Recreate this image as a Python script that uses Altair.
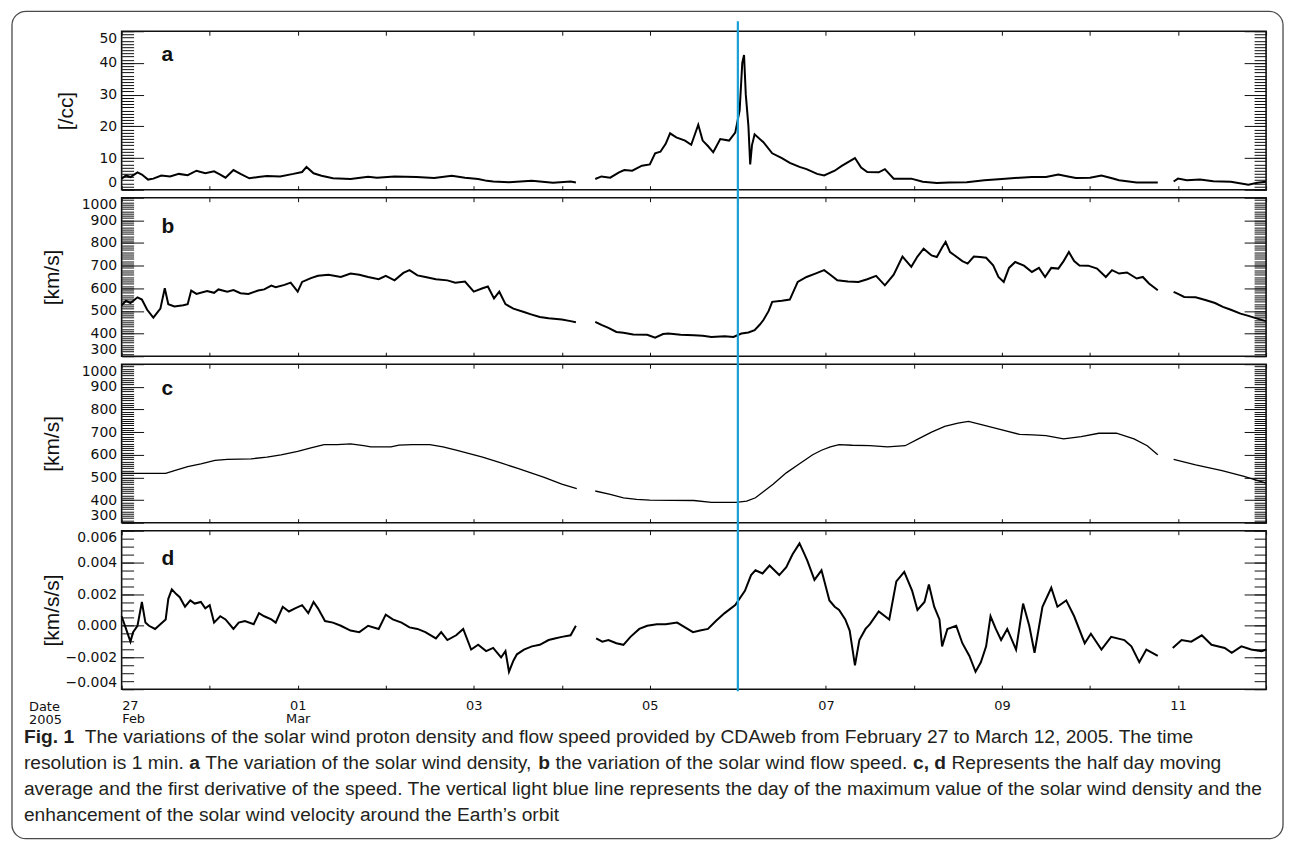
import altair as alt
import pandas as pd

# ---------------- data (x = days since 2005-02-27 00:00 UT; None marks a data gap) ----------------
a_days = [0, 0.05, 0.1, 0.18, 0.23, 0.3, 0.36, 0.45, 0.55, 0.65, 0.75, 0.85, 0.95, 1.05, 1.12, 1.18, 1.27, 1.35,
          1.45, 1.55, 1.65, 1.8, 1.95, 2.05, 2.1, 2.18, 2.27, 2.4, 2.6, 2.8, 2.9, 3.1, 3.35, 3.55, 3.75, 3.9, 4.05,
          4.15, 4.22, 4.4, 4.66, 4.9, 5.1, 5.16, None,
          5.38, 5.45, 5.55, 5.65, 5.71, 5.8, 5.91, 6.0, 6.06, 6.12, 6.18, 6.23, 6.3, 6.4, 6.47, 6.55, 6.6, 6.66,
          6.72, 6.8, 6.9, 6.97, 7.02, 7.05, 7.07, 7.09, 7.12, 7.14, 7.16, 7.19, 7.29, 7.39, 7.5, 7.59, 7.7, 7.78,
          7.9, 7.98, 8.1, 8.18, 8.33, 8.4, 8.47, 8.6, 8.67, 8.77, 8.97, 9.1, 9.26, 9.4, 9.6, 9.8, 10.0, 10.2,
          10.34, 10.5, 10.64, 10.75, 10.84, 11.0, 11.13, 11.25, 11.33, 11.53, 11.77, None,
          11.95, 12.0, 12.1, 12.25, 12.4, 12.6, 12.8, 12.9, 13.0]
a_vals = [3.5, 4.5, 4.0, 5.5, 4.8, 3.2, 3.5, 4.5, 4.2, 5.0, 4.6, 6.0, 5.2, 5.8, 4.8, 3.8, 6.2, 5.0,
          3.6, 4.0, 4.3, 4.2, 5.0, 5.6, 7.2, 5.2, 4.4, 3.6, 3.4, 4.1, 3.8, 4.2, 4.0, 3.7, 4.4, 3.8, 3.4,
          2.8, 2.6, 2.4, 2.8, 2.2, 2.6, 2.3, None,
          3.4, 4.2, 3.8, 5.5, 6.2, 6.0, 7.6, 8.0, 11.5, 12.0, 14.5, 17.8, 16.5, 15.5, 14.2, 20.5, 15.5, 13.8,
          11.8, 16.0, 15.5, 18.0, 25.0, 40.0, 42.5, 30.0, 20.0, 8.0, 14.0, 17.5, 15.0, 11.5, 10.0, 8.5, 7.2, 6.5,
          5.0, 4.5, 6.0, 7.5, 10.0, 7.0, 5.6, 5.5, 6.5, 3.5, 3.5, 2.5, 2.1, 2.3, 2.4, 3.0, 3.4, 3.8,
          4.0, 4.0, 4.8, 4.2, 3.7, 3.8, 4.5, 3.6, 3.0, 2.3, 2.3, None,
          2.6, 3.5, 3.0, 3.2, 2.7, 2.5, 1.6, 2.2, 2.5]

b_days = [0, 0.05, 0.1, 0.18, 0.23, 0.29, 0.36, 0.44, 0.49, 0.53, 0.6, 0.7, 0.75, 0.79, 0.85, 0.97, 1.05, 1.1,
          1.2, 1.27, 1.35, 1.44, 1.55, 1.62, 1.7, 1.75, 1.85, 1.92, 2.0, 2.05, 2.15, 2.23, 2.35, 2.49, 2.6,
          2.7, 2.8, 2.92, 3.0, 3.1, 3.2, 3.27, 3.36, 3.45, 3.57, 3.7, 3.79, 3.9, 4.0, 4.1, 4.16, 4.23, 4.29,
          4.36, 4.45, 4.57, 4.65, 4.75, 4.85, 5.0, 5.1, 5.16, None,
          5.38, 5.45, 5.53, 5.62, 5.7, 5.81, 5.97, 6.06, 6.15, 6.21, 6.35, 6.5, 6.6, 6.7, 6.85, 6.95, 7.04,
          7.12, 7.19, 7.25, 7.29, 7.35, 7.39, 7.5, 7.59, 7.68, 7.78, 7.88, 7.98, 8.05, 8.13, 8.25, 8.37, 8.47,
          8.57, 8.67, 8.77, 8.87, 8.97, 9.04, 9.11, 9.2, 9.26, 9.32, 9.36, 9.41, 9.46, 9.55, 9.61, 9.68, 9.75,
          9.82, 9.9, 9.96, 10.02, 10.08, 10.15, 10.25, 10.34, 10.42, 10.49, 10.56, 10.64, 10.7, 10.76, 10.82,
          10.88, 10.98, 11.08, 11.18, 11.25, 11.33, 11.42, 11.53, 11.6, 11.67, 11.77, None,
          11.95, 12.0, 12.07, 12.2, 12.32, 12.42, 12.51, 12.6, 12.71, 12.8, 12.9, 13.0]
b_vals = [525, 545, 535, 560, 550, 505, 470, 510, 600, 530, 520, 525, 530, 590, 575, 588, 580, 595,
          585, 592, 578, 575, 590, 595, 612, 605, 615, 625, 585, 628, 645, 655, 660, 650, 665,
          660, 650, 640, 655, 635, 668, 680, 657, 650, 640, 635, 625, 630, 585, 600, 608, 555, 585,
          530, 510, 495, 485, 473, 468, 462, 455, 450, None,
          452, 438, 425, 407, 404, 396, 395, 382, 398, 400, 395, 393, 390, 385, 388, 385, 400,
          405, 415, 440, 460, 500, 540, 545, 550, 628, 650, 665, 680, 660, 635, 630, 628, 640,
          655, 613, 660, 740, 695, 740, 775, 745, 738, 780, 805, 760, 746, 720, 709, 740, 738,
          735, 701, 650, 628, 690, 716, 700, 672, 690, 650, 690, 687, 720, 760, 720,
          701, 700, 687, 650, 680, 665, 670, 643, 650, 621, 591, None,
          584, 575, 562, 560, 547, 535, 518, 505, 488, 478, 466, 455]

c_days = [0, 0.5, 0.6, 0.75, 0.9, 1.06, 1.2, 1.47, 1.65, 1.81, 2.0, 2.15, 2.3, 2.45, 2.6, 2.75, 2.83, 3.06,
          3.15, 3.3, 3.5, 3.65, 3.8, 3.95, 4.1, 4.3, 4.5, 4.65, 4.8, 5.0, 5.17, None,
          5.38, 5.55, 5.7, 5.85, 6.0, 6.5, 6.7, 6.98, 7.1, 7.2, 7.3, 7.4, 7.55, 7.7, 7.85, 7.95, 8.05, 8.15,
          8.3, 8.5, 8.7, 8.9, 9.05, 9.2, 9.35, 9.5, 9.62, 9.8, 10.0, 10.2, 10.35, 10.5, 10.7, 10.9, 11.1,
          11.3, 11.5, 11.65, 11.77, None,
          11.95, 12.2, 12.5, 12.75, 13.0]
c_vals = [518, 518, 530, 548, 560, 575, 580, 582, 590, 600, 615, 630, 645, 645, 648, 640, 635, 635,
          643, 645, 645, 635, 620, 605, 590, 565, 540, 520, 500, 470, 450, None,
          440, 425, 410, 403, 400, 398, 390, 390, 395, 410, 440, 470, 520, 560, 600, 620, 635, 645,
          642, 640, 635, 640, 670, 700, 725, 740, 747, 730, 710, 690, 688, 685, 670, 680, 695,
          695, 670, 640, 600, None,
          580, 555, 530, 505, 475]

d_days = [0, 0.05, 0.1, 0.13, 0.18, 0.23, 0.27, 0.31, 0.38, 0.44, 0.5, 0.53, 0.57, 0.62, 0.66, 0.72, 0.78,
          0.83, 0.9, 0.95, 1.0, 1.05, 1.12, 1.18, 1.27, 1.33, 1.4, 1.5, 1.56, 1.62, 1.7, 1.75, 1.83, 1.9,
          1.97, 2.05, 2.12, 2.18, 2.23, 2.31, 2.4, 2.49, 2.6, 2.7, 2.8, 2.92, 3.0, 3.08, 3.18, 3.27, 3.36,
          3.45, 3.57, 3.63, 3.7, 3.8, 3.88, 3.97, 4.05, 4.14, 4.22, 4.31, 4.36, 4.4, 4.45, 4.49, 4.57, 4.66,
          4.75, 4.85, 4.92, 5.0, 5.1, 5.16, None,
          5.39, 5.46, 5.53, 5.62, 5.7, 5.78, 5.88, 5.97, 6.08, 6.18, 6.31, 6.4, 6.49, 6.57, 6.66, 6.75, 6.85,
          6.97, 7.08, 7.15, 7.2, 7.28, 7.36, 7.47, 7.55, 7.62, 7.7, 7.75, 7.79, 7.87, 7.95, 8.04, 8.1, 8.15,
          8.22, 8.27, 8.33, 8.38, 8.45, 8.5, 8.6, 8.72, 8.8, 8.89, 8.98, 9.04, 9.12, 9.17, 9.23, 9.29, 9.32,
          9.38, 9.48, 9.55, 9.63, 9.7, 9.76, 9.82, 9.87, 9.93, 9.99, 10.06, 10.16, 10.24, 10.31, 10.37,
          10.46, 10.56, 10.63, 10.73, 10.82, 10.94, 11.01, 11.13, 11.24, 11.39, 11.47, 11.56, 11.64, 11.77,
          None,
          11.94, 12.04, 12.15, 12.27, 12.38, 12.53, 12.61, 12.72, 12.83, 12.95, 13.0]
d_vals = [0.0006, -0.0002, -0.001, -0.0004, 0.0, 0.0015, 0.0002, 0.0, -0.0002, 0.0001, 0.0004, 0.0017,
          0.0023, 0.002, 0.0018, 0.0012, 0.0016, 0.0014, 0.0015, 0.0011, 0.0013, 0.0002, 0.0006, 0.0004,
          -0.0002, 0.0002, 0.0003, 0.0001, 0.0008, 0.0006, 0.0004, 0.0002, 0.0012, 0.0009, 0.0011, 0.0013,
          0.0008, 0.0015, 0.0011, 0.0003, 0.0002, 0.0, -0.0003, -0.0004, 0.0, -0.0002, 0.0007, 0.0004,
          0.0002, -0.0001, -0.0002, -0.0004, -0.0008, -0.0004, -0.0009, -0.0006, -0.0002, -0.0015,
          -0.0012, -0.0016, -0.0014, -0.002, -0.0016, -0.0029, -0.0022, -0.0018, -0.0015, -0.0013,
          -0.0012, -0.0009, -0.0008, -0.0007, -0.0006, 0.0, None,
          -0.0008, -0.001, -0.0009, -0.0011, -0.0012, -0.0007, -0.0002, 0.0, 0.0001, 0.0001, 0.0002,
          -0.0001, -0.0004, -0.0003, -0.0002, 0.0003, 0.0008, 0.0013, 0.0022, 0.0032, 0.0035, 0.0033,
          0.0038, 0.0032, 0.0037, 0.0045, 0.0052, 0.0046, 0.0041, 0.0029, 0.0035, 0.0016, 0.0012, 0.001,
          0.0004, -0.0003, -0.0025, -0.0009, -0.0002, 0.0001, 0.0009, 0.0004, 0.0028, 0.0034, 0.0022,
          0.001, 0.0015, 0.0026, 0.0012, 0.0004, -0.0013, -0.0002, 0.0, -0.0011, -0.0019, -0.0029,
          -0.0023, -0.0013, 0.0006, -0.0002, -0.0009, -0.0002, -0.0015, 0.0014, 0.0, -0.0017,
          0.0012, 0.0024, 0.0012, 0.0016, 0.0006, -0.0011, -0.0005, -0.0015, -0.0007, -0.0009,
          -0.0013, -0.0023, -0.0015, -0.0019, None,
          -0.0014, -0.0009, -0.001, -0.0006, -0.0012, -0.0014, -0.0017, -0.0013, -0.0015, -0.0016,
          -0.0015]

event_day = [7.0]  # 2005-03-06 00:00

x_domain = [0, 13]
x_day_ticks = list(range(0, 14))
x_label_days = [0, 2, 4, 6, 8, 10, 12]
x_label_text = [["27", "Feb"], ["01", "Mar"], ["03"], ["05"], ["07"], ["09"], ["11"]]

panel_letters = ["a", "b", "c", "d"]
panel_titles = ["[/cc]", "[km/s]", "[km/s]", "[km/s/s]"]
y_domains = [[0, 50], [300, 1000], [300, 1000], [-0.004, 0.006]]
y_major = [[0, 10, 20, 30, 40, 50],
           [300, 400, 500, 600, 700, 800, 900, 1000],
           [300, 400, 500, 600, 700, 800, 900, 1000],
           [-0.004, -0.002, 0.0, 0.002, 0.004, 0.006]]
y_minor = [list(range(0, 51, 1)),
           list(range(300, 1001, 10)),
           list(range(300, 1001, 10)),
           [round(-0.004 + 0.0005 * i, 4) for i in range(21)]]
y_formats = ["d", "d", "d", ".3f"]

caption_lines = [
    [("Fig. 1", True), ("  The variations of the solar wind proton density and flow speed provided by CDAweb from "
                        "February 27 to March 12, 2005. The time", False)],
    [("resolution is 1 min. ", False), ("a", True), (" The variation of the solar wind density, ", False),
     ("b", True), (" the variation of the solar wind flow speed. ", False), ("c, d", True),
     (" Represents the half day moving", False)],
    [("average and the first derivative of the speed. The vertical light blue line represents the day of the "
      "maximum value of the solar wind density and the", False)],
    [("enhancement of the solar wind velocity around the Earth\u2019s orbit", False)],
]

# ---------------- layout / style ----------------
W, H = 1148, 159
LABEL_FONT = "DejaVu Sans"
SANS = "Liberation Sans"
BLUE = "#1aa0d8"
INK = "#111111"


def to_frame(days, vals):
    rows, seg = [], 0
    for d, v in zip(days, vals):
        if v is None:
            seg += 1
            continue
        rows.append({"day": d, "value": v, "seg": seg})
    return pd.DataFrame(rows)


xs = alt.Scale(domain=x_domain, nice=False, zero=False)


def panel(df, i, line_width, extra=None, x_labels=False):
    ys = alt.Scale(domain=y_domains[i], nice=False, zero=False)
    title_x = -55 if i == 0 else -69
    letter_y = [30, 35, 31, 34][i]
    line = alt.Chart(df).mark_line(color="black", strokeWidth=line_width, strokeJoin="miter").encode(
        x=alt.X("day:Q", scale=xs, axis=alt.Axis(orient="top", offset=-H, values=x_day_ticks, labels=False,
                                                 tickSize=4, tickColor=INK, domain=False, grid=False, title=None)),
        y=alt.Y("value:Q", scale=ys, axis=alt.Axis(
            orient="left", values=y_major[i], ticks=False, domain=False, grid=False, format=y_formats[i],
            labelFont=LABEL_FONT, labelFontSize=14, labelColor=INK, labelPadding=5, labelOverlap=False,
            labelFlush=True, labelFlushOffset=0,
            title=panel_titles[i], titleFont=SANS, titleFontSize=21, titleFontWeight="normal",
            titleColor=INK, titleAngle=270, titleX=title_x, titleY=H / 2, titleAlign="center",
            titleBaseline="middle")),
        detail="seg:N",
    )

    def ghost(yaxis, xaxis=None):
        return alt.Chart(df).mark_point(opacity=0, size=1).encode(
            x=alt.X("day:Q", scale=xs, axis=xaxis),
            y=alt.Y("value:Q", scale=ys, axis=yaxis),
        )

    top_ticks = alt.Axis(orient="bottom", offset=-H, values=x_day_ticks, labels=False, tickSize=4,
                         tickColor=INK, domain=False, grid=False, title=None)
    layers = [
        line,
        ghost(alt.Axis(orient="right", offset=-W, values=y_major[i], labels=False, tickSize=22,
                       tickColor=INK, domain=False, grid=False, title=None), top_ticks),
        ghost(alt.Axis(orient="right", offset=-W, values=y_minor[i], labels=False, tickSize=12,
                       tickColor=INK, domain=False, grid=False, title=None)),
        ghost(alt.Axis(orient="left", offset=-W, values=y_major[i], labels=False, tickSize=22,
                       tickColor=INK, domain=False, grid=False, title=None)),
        ghost(alt.Axis(orient="left", offset=-W, values=y_minor[i], labels=False, tickSize=12,
                       tickColor=INK, domain=False, grid=False, title=None)),
    ]
    if x_labels:
        expr = "''"
        for d, lab in reversed(list(zip(x_label_days, x_label_text))):
            arr = "[" + ",".join("'" + s + "'" for s in lab) + "]"
            expr = f"datum.value == {d} ? {arr} : ({expr})"
        layers.append(alt.Chart(df).mark_point(opacity=0, size=1).encode(
            x=alt.X("day:Q", scale=xs, axis=alt.Axis(
                orient="bottom", values=x_label_days, labelExpr=expr, ticks=False, domain=False, grid=False,
                labelFont=LABEL_FONT, labelFontSize=13, labelColor=INK, labelPadding=10, labelLineHeight=13,
                labelBaseline="top", labelOverlap=False, title=None)),
            y=alt.Y("value:Q", scale=ys, axis=None),
        ))
    layers.append(alt.Chart(pd.DataFrame({"t": [panel_letters[i]]})).mark_text(
        font=SANS, fontSize=21, fontWeight="bold", align="left", baseline="alphabetic", color=INK
    ).encode(text="t:N", x=alt.value(40), y=alt.value(letter_y)))
    if extra is not None:
        layers.append(extra)
    return alt.layer(*layers).resolve_axis(x="independent", y="independent").properties(
        width=W, height=H, view=alt.ViewBackground(stroke=INK, strokeWidth=1.6, fill="white"))


pa = panel(to_frame(a_days, a_vals), 0, 2.0)
pb = panel(to_frame(b_days, b_vals), 1, 2.0)
pc = panel(to_frame(c_days, c_vals), 2, 1.3)
event = alt.Chart(pd.DataFrame({"day": event_day})).mark_rule(color=BLUE, strokeWidth=2.2).encode(
    x=alt.X("day:Q", scale=xs, axis=None), y=alt.value(-511), y2=alt.value(161))
pd_ = panel(to_frame(d_days, d_vals), 3, 2.0, extra=event, x_labels=True)

# ---------------- caption (Arial/Liberation metrics for inline bold runs) ----------------
REG = {" ": 278, ",": 278, ".": 278, "-": 333, "\u2019": 222, "'": 191,
       "A": 667, "B": 667, "C": 722, "D": 722, "E": 667, "F": 611, "G": 778, "H": 722, "I": 278, "J": 500,
       "K": 667, "L": 556, "M": 833, "N": 722, "O": 778, "P": 667, "Q": 778, "R": 722, "S": 667, "T": 611,
       "U": 722, "V": 667, "W": 944, "X": 667, "Y": 667, "Z": 611,
       "a": 556, "b": 556, "c": 500, "d": 556, "e": 556, "f": 278, "g": 556, "h": 556, "i": 222, "j": 222,
       "k": 500, "l": 222, "m": 833, "n": 556, "o": 556, "p": 556, "q": 556, "r": 333, "s": 500, "t": 278,
       "u": 556, "v": 500, "w": 722, "x": 500, "y": 500, "z": 500}
BOLD = {" ": 278, ",": 278, ".": 278, "1": 556, "F": 611, "a": 556, "b": 611, "c": 556, "d": 611,
        "g": 611, "i": 278}


def em_width(s, bold):
    tab = BOLD if bold else REG
    return sum(tab.get(ch, 556) for ch in s) / 1000.0


cap_size = 1243.0 / sum(em_width(s, b) for s, b in caption_lines[2])
rows = []
for li, segs in enumerate(caption_lines):
    x = -98.0
    for s, b in segs:
        lead = len(s) - len(s.lstrip(" "))
        rows.append({"px": x + em_width(" " * lead, b) * cap_size, "py": 46 + 26 * li, "t": s.strip(" "),
                     "bold": b})
        x += em_width(s, b) * cap_size
cap_df = pd.DataFrame(rows)

frame = alt.Chart(pd.DataFrame({"k": [0]})).mark_rect(
    fillOpacity=0, stroke="#4a4a4a", strokeWidth=1.3, cornerRadius=14
).encode(x=alt.value(-110), x2=alt.value(1165), y=alt.value(-688), y2=alt.value(142))


def cap_text(bold):
    return alt.Chart(cap_df[cap_df["bold"] == bold]).mark_text(
        font=SANS, fontSize=cap_size, fontWeight="bold" if bold else "normal", align="left",
        baseline="alphabetic", color="#231f20"
    ).encode(x=alt.X("px:Q", scale=None, axis=None), y=alt.Y("py:Q", scale=None, axis=None), text="t:N")


date_df = pd.DataFrame({"px": [-93, -93], "py": [14, 27], "t": ["Date", "2005"]})
date_txt = alt.Chart(date_df).mark_text(
    font=LABEL_FONT, fontSize=13, align="left", baseline="alphabetic", color=INK
).encode(x=alt.X("px:Q", scale=None, axis=None), y=alt.Y("py:Q", scale=None, axis=None), text="t:N")

caption = alt.layer(frame, cap_text(False), cap_text(True), date_txt).properties(
    width=W, height=142, view=alt.ViewBackground(stroke="transparent"))

chart = alt.vconcat(pa, pb, pc, pd_, caption, spacing=8, bounds="flush").properties(
    padding={"left": 2, "top": 0, "right": 2, "bottom": 2}, background="white"
)

chart.save("out.html", embed_options={"renderer": "svg", "actions": False})
